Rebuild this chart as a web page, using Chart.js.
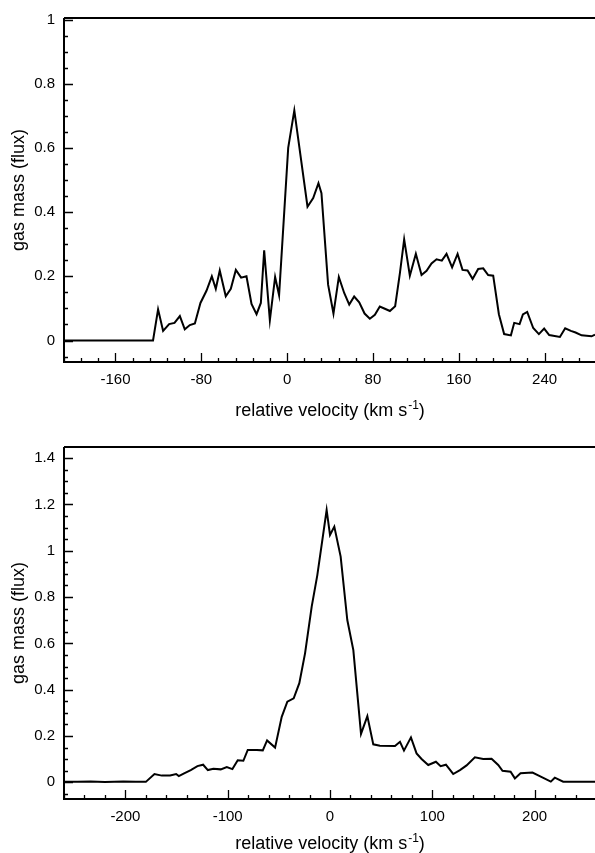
<!DOCTYPE html>
<html>
<head>
<meta charset="utf-8">
<script src="https://cdn.jsdelivr.net/npm/chart.js@4.4.1/dist/chart.umd.min.js"></script>
<style>
  html, body { margin:0; padding:0; background:#fff; }
  #wrap { position:relative; width:595px; height:853px; }
  canvas { position:absolute; left:0; }
</style>
</head>
<body>
<div id="wrap">
  <canvas id="topChart" width="595" height="425" style="top:0"></canvas>
  <canvas id="botChart" width="595" height="428" style="top:425px"></canvas>
</div>
<script>
// ---- top panel: velocity (km/s) vs flux
const topVel = [-208, -125, -120.3, -115.6, -110, -105, -100, -95.4, -90.7, -86, -80.8, -75.2, -70.2, -66.5, -62.8, -57.2,
    -52.5, -47.8, -42.9, -37.9, -33.2, -28.5, -24.5, -21.4, -16.1, -11.2, -7.5, 1, 6.7, 19, 24.3, 29.2, 32, 38.2, 43.2,
    48.2, 53.2, 57.9, 62.5, 67.2, 72.2, 77.1, 81.8, 86.4, 91.1, 95.8, 100.7, 105.1, 109.1, 114.4, 120, 125.3, 130, 134.6,
    139.3, 144.2, 148.6, 153.8, 158.9, 163.5, 168.2, 172.9, 178.1, 182.8, 187.4, 192.1, 197.4, 202.3, 208.6, 211.7,
    216.7, 219.8, 223.8, 229.4, 234.7, 239.6, 244.3, 254.3, 259.2, 264.5, 268.9, 274.5, 283.8, 287];
const topFlux = [0, 0, 0.097, 0.03, 0.051, 0.055, 0.076, 0.035, 0.048, 0.053, 0.117, 0.155, 0.2, 0.161, 0.218, 0.138,
    0.161, 0.22, 0.196, 0.2, 0.114, 0.082, 0.117, 0.281, 0.063, 0.198, 0.141, 0.6, 0.717, 0.417, 0.444, 0.49, 0.459, 0.174, 0.084,
    0.198, 0.148, 0.112, 0.137, 0.119, 0.084, 0.068, 0.08, 0.106, 0.099, 0.092, 0.107, 0.209, 0.315, 0.202, 0.27, 0.204, 0.217, 0.24,
    0.253, 0.249, 0.27, 0.228, 0.27, 0.22, 0.218, 0.192, 0.223, 0.225, 0.204, 0.202, 0.082, 0.02, 0.016, 0.055,
    0.051, 0.081, 0.089, 0.039, 0.02, 0.037, 0.017, 0.011, 0.038, 0.03, 0.025, 0.016, 0.013, 0.018];
const topXTicks = [-160, -80, 0, 80, 160, 240];
const topYTicks = [0, 0.2, 0.4, 0.6, 0.8, 1];

// ---- bottom panel
const botVel = [-260, -247, -234, -220, -202, -190, -180, -171.6, -164.4, -156.3, -150.4, -147.8, -142.6, -136.1, -129.6,
    -124, -119.4, -114, -106.8, -100.9, -95.4, -90.2, -84.7, -80.4, -71.6, -65.7, -61.5, -53.7, -47.2, -41.7, -35.5, -30,
    -24.4, -17.9, -12.4, -3.3, 0, 4.2, 10.4, 16.9, 22.8, 30.3, 36.5, 42.3, 48.8, 63.5, 68.4, 72.3, 79.1, 84.6, 89.5, 96,
    103.5, 108.1, 113.3, 120.4, 127, 133.5, 141.6, 149.7, 157.9, 164.4, 168.6, 176.5, 180.7, 186.2, 197.9, 205, 215.8,
    219.7, 227.9, 259];
const botFlux = [0.003, 0.002, 0.004, 0.001, 0.004, 0.002, 0.002, 0.036, 0.029, 0.03, 0.036, 0.027, 0.039, 0.053, 0.07,
    0.076, 0.053, 0.059, 0.056, 0.066, 0.057, 0.095, 0.093, 0.14, 0.14, 0.138, 0.181, 0.15, 0.283, 0.348, 0.363, 0.428,
    0.557, 0.759, 0.895, 1.176, 1.068, 1.104, 0.975, 0.701, 0.571, 0.209, 0.286, 0.164, 0.158, 0.157, 0.175, 0.137, 0.194,
    0.125, 0.101, 0.075, 0.089, 0.07, 0.076, 0.036, 0.053, 0.073, 0.108, 0.101, 0.102, 0.075, 0.05, 0.046, 0.017, 0.039,
    0.042, 0.027, 0.003, 0.02, 0.003, 0.003];
const botXTicks = [-200, -100, 0, 100, 200];
const botYTicks = [0, 0.2, 0.4, 0.6, 0.8, 1, 1.2, 1.4];

const FONT = '"Liberation Sans", Helvetica, Arial, sans-serif';

// frame, inward ticks and axis titles (superscript needs manual drawing)
const framePlugin = {
    id: 'framePlugin',
    afterDraw(chart, args, o) {
        const ctx = chart.ctx, a = chart.chartArea, x = chart.scales.x, y = chart.scales.y;
        ctx.save();
        ctx.strokeStyle = '#000';
        ctx.lineWidth = 2;
        ctx.beginPath();
        ctx.moveTo(a.left, a.top); ctx.lineTo(a.right, a.top);
        ctx.moveTo(a.left, a.top); ctx.lineTo(a.left, a.bottom); ctx.lineTo(a.right, a.bottom);
        ctx.stroke();

        ctx.lineWidth = 1.3;
        ctx.beginPath();
        for (let i = Math.ceil(x.min / o.xMinor); i * o.xMinor <= x.max; i++) {
            const v = i * o.xMinor;
            const major = o.xTicks.some(t => Math.abs(t - v) < 1e-6);
            const px = Math.round(x.getPixelForValue(v)) + 0.5;
            ctx.moveTo(px, a.bottom); ctx.lineTo(px, a.bottom - (major ? 9 : 4));
        }
        for (let i = Math.ceil(y.min / o.yMinor - 1e-6); i * o.yMinor <= y.max + 1e-6; i++) {
            const v = i * o.yMinor;
            const major = o.yTicks.some(t => Math.abs(t - v) < 1e-6);
            const py = Math.round(y.getPixelForValue(v)) + 0.5;
            ctx.moveTo(a.left, py); ctx.lineTo(a.left + (major ? 9 : 4), py);
        }
        ctx.stroke();

        // x title
        ctx.fillStyle = '#000';
        ctx.textBaseline = 'alphabetic';
        const main = 'relative velocity (km s', sup = '-1', close = ')';
        ctx.font = '18px ' + FONT;
        const w1 = ctx.measureText(main).width, w3 = ctx.measureText(close).width;
        ctx.font = '12px ' + FONT;
        const w2 = ctx.measureText(sup).width;
        const cx = (a.left + a.right) / 2;
        let tx = cx - (w1 + w2 + w3) / 2;
        ctx.textAlign = 'left';
        ctx.font = '18px ' + FONT;
        ctx.fillText(main, tx, o.titleY);
        ctx.font = '12px ' + FONT;
        ctx.fillText(sup, tx + w1 + 1, o.titleY - 7);
        ctx.font = '18px ' + FONT;
        ctx.fillText(close, tx + w1 + w2 + 1, o.titleY);

        // y title
        ctx.translate(24, (a.top + a.bottom) / 2);
        ctx.rotate(-Math.PI / 2);
        ctx.textAlign = 'center';
        ctx.fillText('gas mass (flux)', 0, 0);
        ctx.restore();
    }
};

function makeChart(id, vel, flux, lim, xTicks, yTicks, xMinor, padTop, xAxisH, titleY) {
    return new Chart(document.getElementById(id), {
        type: 'scatter',
        data: {
            datasets: [{
                data: vel.map((v, i) => ({ x: v, y: flux[i] })),
                showLine: true,
                borderColor: '#000',
                borderWidth: 2,
                pointRadius: 0,
                tension: 0
            }]
        },
        options: {
            responsive: false,
            animation: false,
            devicePixelRatio: 1,
            layout: { padding: { top: padTop, left: 0, right: 0, bottom: 0 } },
            plugins: {
                legend: { display: false },
                tooltip: { enabled: false },
                framePlugin: { xTicks: xTicks, yTicks: yTicks, xMinor: xMinor, yMinor: 0.05, titleY: titleY }
            },
            scales: {
                x: {
                    type: 'linear', min: lim[0], max: lim[1],
                    grid: { display: false, drawTicks: false },
                    border: { display: false },
                    afterBuildTicks: s => { s.ticks = xTicks.map(v => ({ value: v })); },
                    afterFit: s => { s.height = xAxisH; },
                    ticks: { color: '#000', padding: 9, maxRotation: 0, font: { family: FONT, size: 15 },
                             callback: v => String(v) }
                },
                y: {
                    type: 'linear', min: lim[2], max: lim[3],
                    grid: { display: false, drawTicks: false },
                    border: { display: false },
                    afterBuildTicks: s => { s.ticks = yTicks.map(v => ({ value: v })); },
                    afterFit: s => { s.width = 64; },
                    ticks: { color: '#000', padding: 9, font: { family: FONT, size: 15 },
                             callback: v => String(v) }
                }
            }
        },
        plugins: [framePlugin]
    });
}

makeChart('topChart', topVel, topFlux, [-208, 287, -0.067, 1.005], topXTicks, topYTicks, 16, 12, 63, 416);
makeChart('botChart', botVel, botFlux, [-260, 259, -0.072, 1.448], botXTicks, botYTicks, 20, 22, 54, 424);
</script>
</body>
</html>
